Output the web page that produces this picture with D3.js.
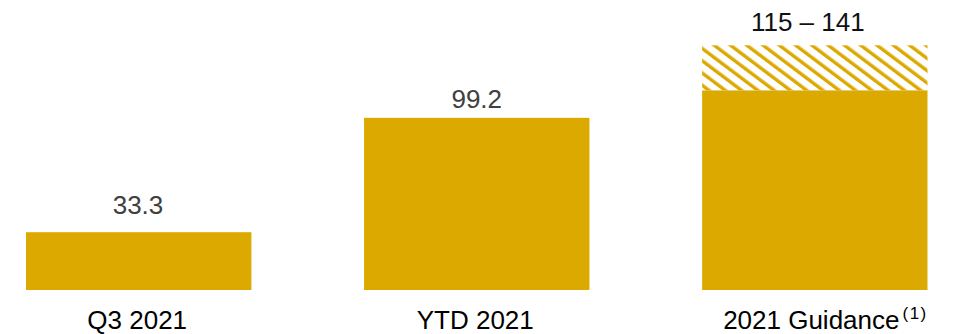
<!DOCTYPE html>
<html>
<head>
<meta charset="utf-8">
<script src="https://cdn.jsdelivr.net/npm/d3@7"></script>
<style>
  html, body { margin: 0; padding: 0; background: #fff; }
  svg { display: block; font-family: "Liberation Sans", Arial, sans-serif; }
</style>
</head>
<body>
<svg id="chart" width="953" height="334"></svg>
<script>
const categories = ["Q3 2021", "YTD 2021", "2021 Guidance"];
const solidValues = [33.3, 99.2, 115];
const rangeHigh = [null, null, 141];
const valueLabels = ["33.3", "99.2", "115 \u2013 141"];
const footnotes = ["", "", "(1)"];

const W = 953, H = 334;
const gold = "#DCA900";
const svg = d3.select("#chart");

const x = d3.scaleBand().domain(categories).range([26, 927.5]).paddingInner(1/3).paddingOuter(0);
const y = d3.scaleLinear().domain([0, 141]).range([290, 45.3]);

const defs = svg.append("defs");
const pat = defs.append("pattern")
  .attr("id", "hatch")
  .attr("patternUnits", "userSpaceOnUse")
  .attr("width", 9.8).attr("height", 10)
  .attr("patternTransform", "rotate(-53)");
pat.append("rect").attr("width", 9.8).attr("height", 10).attr("fill", "#fff");
pat.append("rect").attr("x", 0).attr("width", 3.4).attr("height", 10).attr("fill", gold);

const data = categories.map((c, i) => ({ c, v: solidValues[i], hi: rangeHigh[i], label: valueLabels[i], fn: footnotes[i] }));

// hatched range parts
svg.selectAll("rect.range").data(data.filter(d => d.hi != null)).join("rect")
  .attr("class", "range")
  .attr("x", d => x(d.c))
  .attr("width", x.bandwidth())
  .attr("y", d => y(d.hi))
  .attr("height", d => y(d.v) - y(d.hi))
  .attr("fill", "url(#hatch)");

// solid bars
svg.selectAll("rect.bar").data(data).join("rect")
  .attr("class", "bar")
  .attr("x", d => x(d.c))
  .attr("width", x.bandwidth())
  .attr("y", d => y(d.v))
  .attr("height", d => y(0) - y(d.v))
  .attr("fill", gold);

// value labels
const labelGap = [18.7, 9.7, 14.6];
const labelDx = [-0.7, 0, -7];
const labelColor = ["#404040", "#404040", "#111"];
svg.selectAll("text.val").data(data).join("text")
  .attr("class", "val")
  .attr("x", (d, i) => x(d.c) + x.bandwidth() / 2 + labelDx[i])
  .attr("y", (d, i) => y(d.hi != null ? d.hi : d.v) - labelGap[i])
  .attr("text-anchor", "middle")
  .attr("font-size", 26)
  .attr("fill", (d, i) => labelColor[i])
  .text(d => d.label);

// category labels
const cat = svg.selectAll("text.cat").data(data).join("text")
  .attr("class", "cat")
  .attr("x", d => d.fn ? x(d.c) + 21 : x(d.c) + x.bandwidth() / 2 - 1.5)
  .attr("y", 328.5)
  .attr("text-anchor", d => d.fn ? "start" : "middle")
  .attr("font-size", 26)
  .attr("fill", "#000");
cat.append("tspan").text(d => d.c);
cat.filter(d => d.fn).append("tspan")
  .attr("font-size", 17)
  .attr("letter-spacing", 1.5)
  .attr("dx", 3)
  .attr("dy", -10)
  .text(d => d.fn);
</script>
</body>
</html>
